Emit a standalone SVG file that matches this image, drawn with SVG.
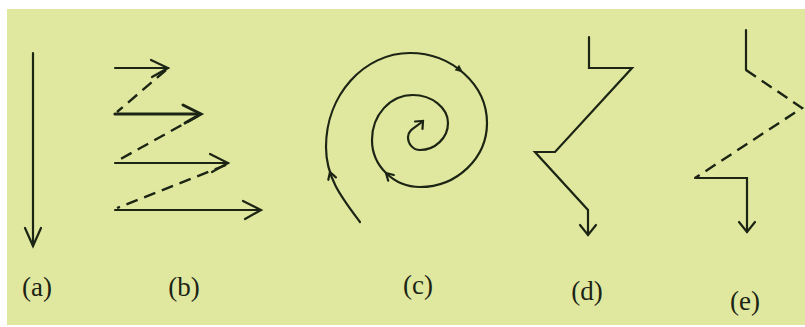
<svg xmlns="http://www.w3.org/2000/svg" width="805" height="327" viewBox="0 0 805 327">
<style>
.ln{fill:none;stroke:#1c2414;stroke-width:2.2;stroke-linecap:round;stroke-linejoin:miter}
.ds{fill:none;stroke:#1c2414;stroke-width:2.4;stroke-dasharray:12 7}
.lb{font-family:"Liberation Serif","Times New Roman",serif;font-size:27px;fill:#1c2414;text-anchor:middle}
</style>
<rect x="0" y="0" width="805" height="327" fill="#ffffff"/>
<rect x="7" y="9" width="798" height="316" fill="#e0e8a0"/>
<g id="a">
<line class="ln" x1="33" y1="53" x2="33" y2="246"/>
<polyline class="ln" points="25,228 33,246 41,228"/>
<text class="lb" x="37" y="296">(a)</text>
</g>
<g id="b">
<line class="ln" x1="115" y1="68" x2="168" y2="68"/>
<polyline class="ln" points="151,60 168,68 152,77"/>
<line class="ln" x1="115" y1="114" x2="200" y2="114" style="stroke-width:3.2"/>
<polyline class="ln" points="183,105 201,114 185,123" style="stroke-width:3"/>
<line class="ln" x1="115" y1="163" x2="228" y2="163"/>
<polyline class="ln" points="210,154 228,163 212,172"/>
<line class="ln" x1="115" y1="210" x2="260" y2="210"/>
<polyline class="ln" points="243,201 261,210 245,219"/>
<line class="ds" x1="166" y1="70" x2="117" y2="112"/>
<line class="ds" x1="198" y1="116" x2="117" y2="161"/>
<line class="ds" x1="226" y1="165" x2="117" y2="208"/>
<text class="lb" x="184" y="296">(b)</text>
</g>
<g id="c">
<path class="ln" d="M360,222 C342,198 326,178 326,147 C326,95 364,53 410,53 C452,53 487,85 487,123 C487,158 457,187 420,187 C394,187 372,166 372,140 C372,115 390,95 413,95 C432,95 448,108 448,123 C448,138 435,150 420,150 C413,150 408,144 408,137 C408,130 416,127 422,122"/>
<polyline class="ln" points="328.3,179.8 330,172 335.9,177.4"/>
<polygon points="463,72.5 454.7,70.3 459.1,64.7" fill="#1c2414"/>
<polyline class="ln" points="388.2,180.7 386,173 393.8,175"/>
<polyline class="ln" points="415,121.5 423,121 422.5,129"/>
<text class="lb" x="418" y="294">(c)</text>
</g>
<g id="d">
<polyline class="ln" points="589,37 589,68 632,68 555,152 535,152 588,210 588,235"/>
<polyline class="ln" points="580,225 588,235 596,225"/>
<text class="lb" x="587" y="300">(d)</text>
</g>
<g id="e">
<polyline class="ln" points="746,30 746,70"/>
<polyline class="ds" points="746,70 802,108 695,178"/>
<polyline class="ln" points="695,178 747,178 747,232"/>
<polyline class="ln" points="739,222 747,232 755,222"/>
<text class="lb" x="745" y="310">(e)</text>
</g>
</svg>
